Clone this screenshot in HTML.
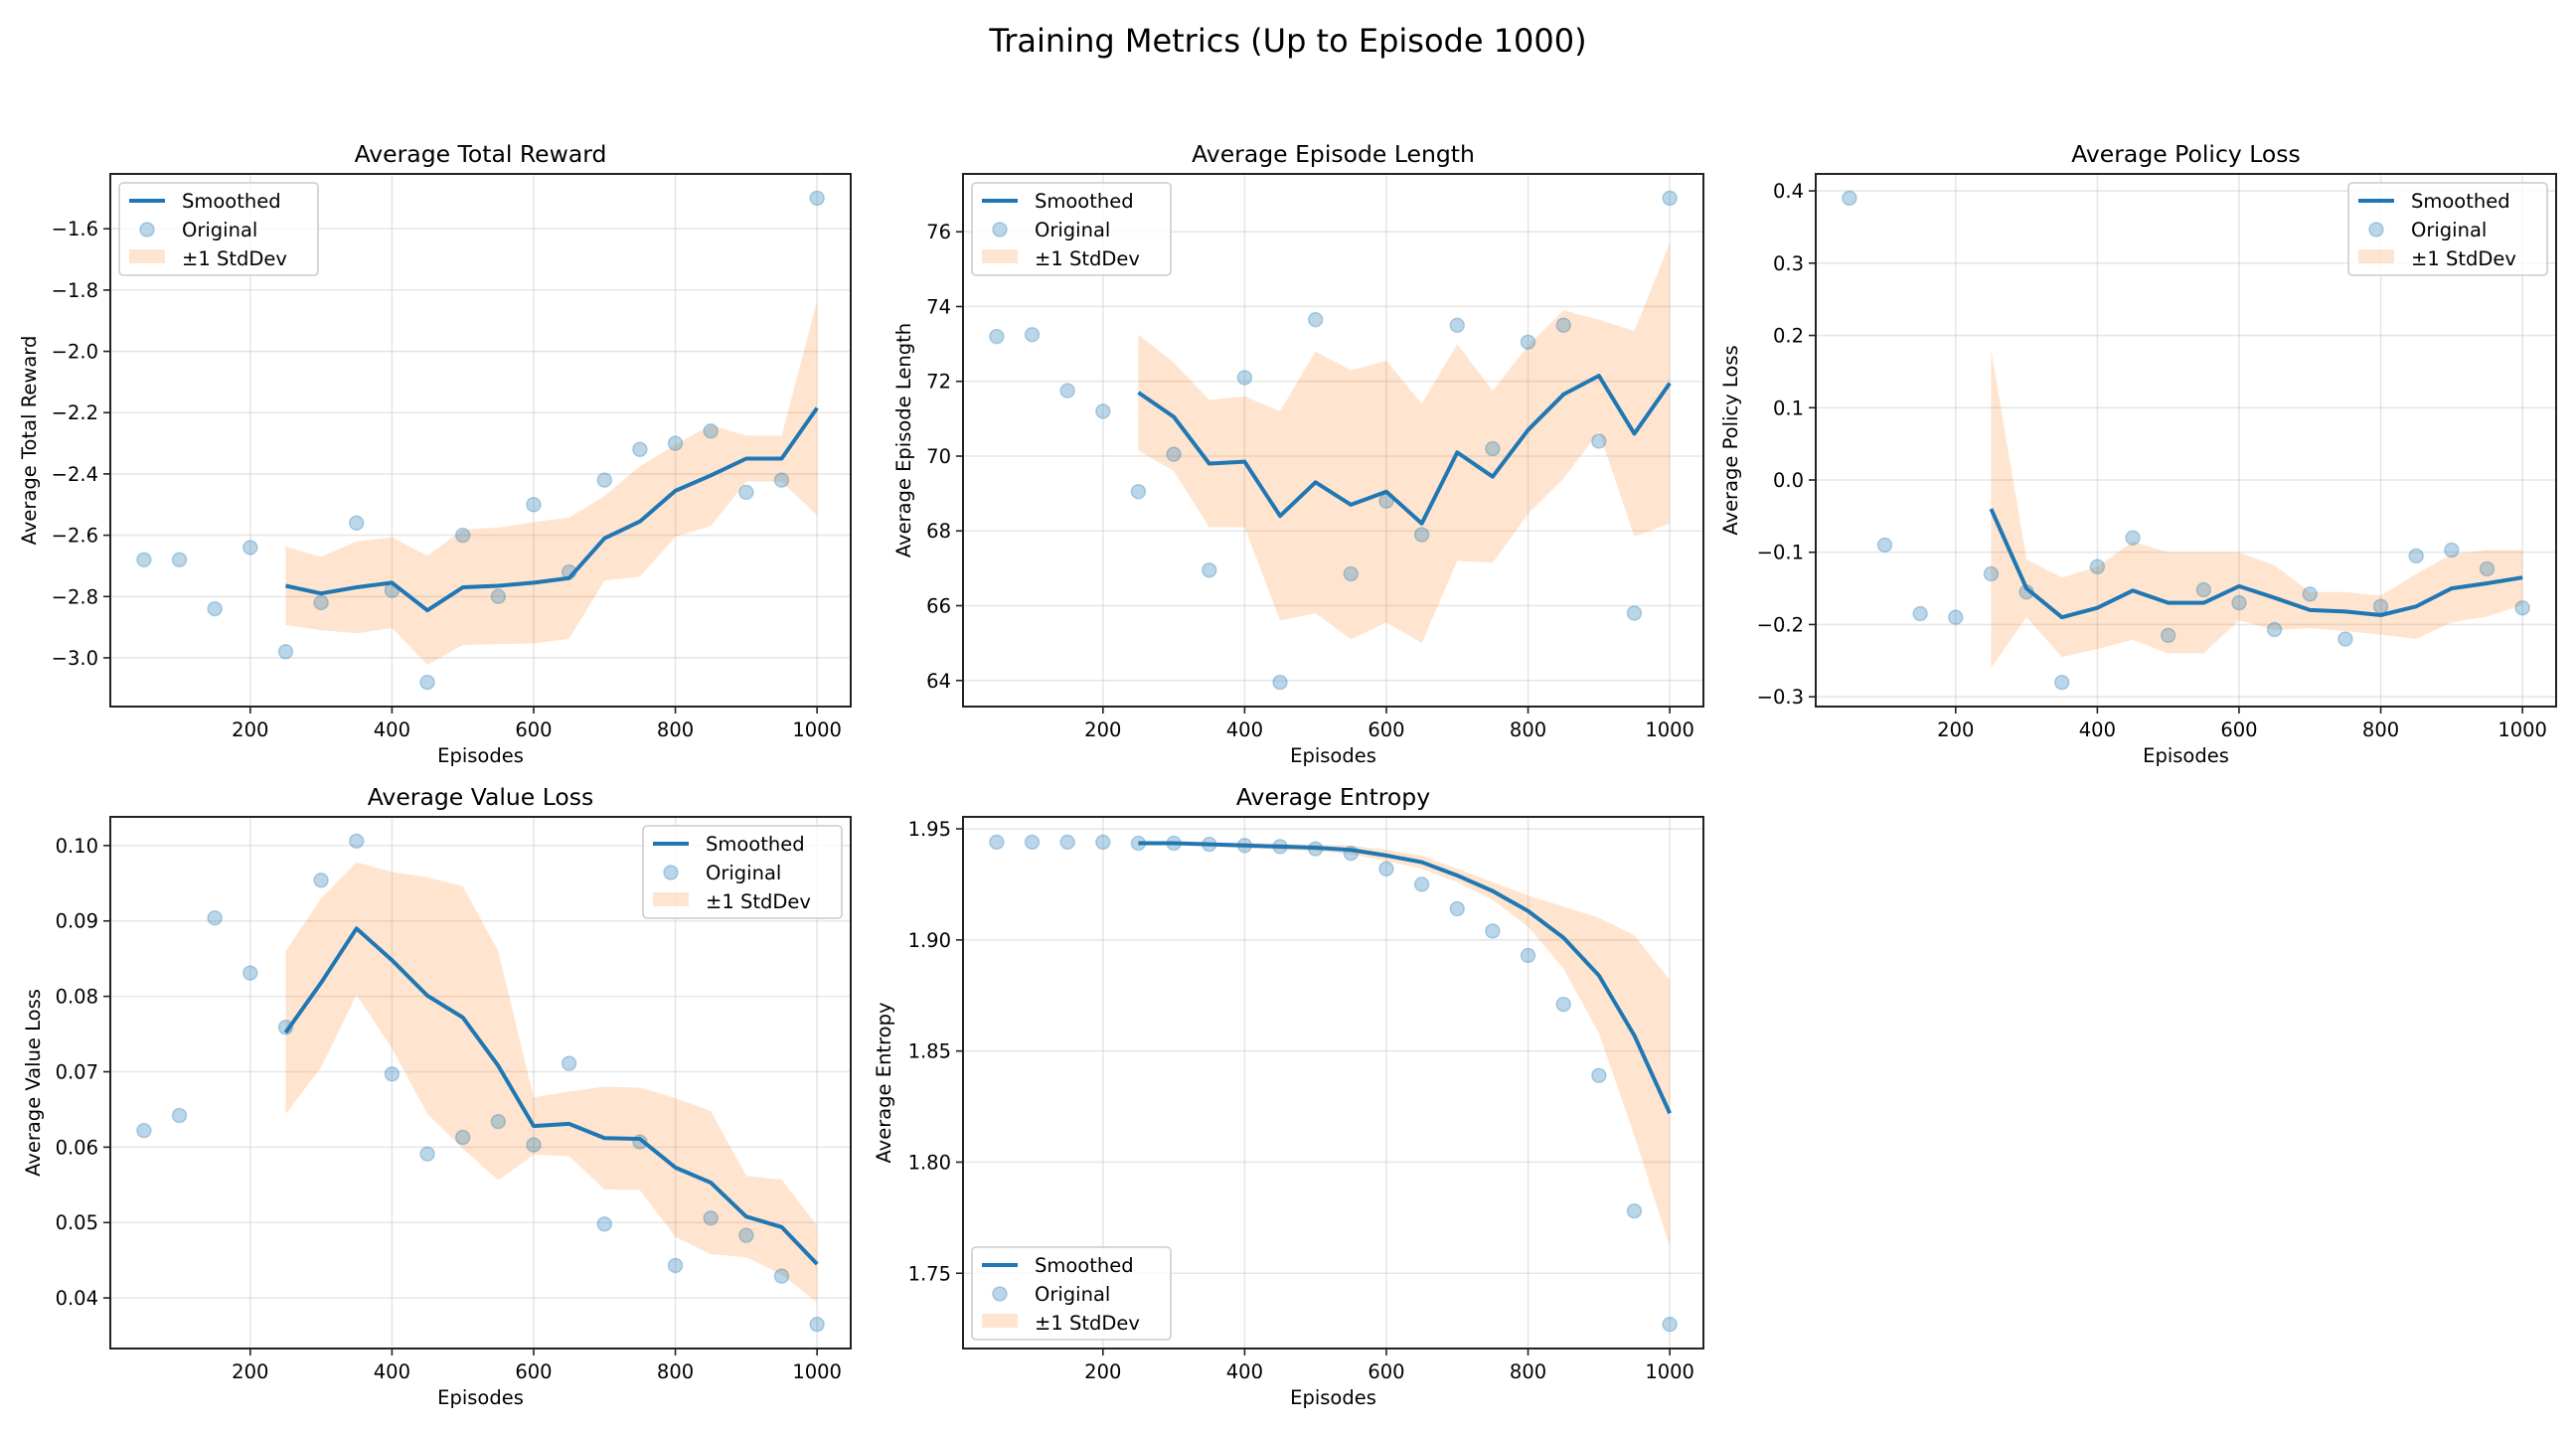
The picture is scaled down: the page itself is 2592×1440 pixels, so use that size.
<!DOCTYPE html>
<html><head><meta charset="utf-8">
<style>
html,body{margin:0;padding:0;background:#fff;}
svg{display:block;font-family:"DejaVu Sans","Liberation Sans",sans-serif;}
</style></head>
<body>
<svg id="fig" width="2592" height="1440" viewBox="0 0 2592 1440" xmlns="http://www.w3.org/2000/svg">
<rect width="2592" height="1440" fill="#fff"/>
<text x="1296" y="52" font-size="32" text-anchor="middle" fill="#000">Training Metrics (Up to Episode 1000)</text>
</svg>
<script>
const episodes=[50,100,150,200,250,300,350,400,450,500,550,600,650,700,750,800,850,900,950,1000];
const smoothEpisodes=[250,300,350,400,450,500,550,600,650,700,750,800,850,900,950,1000];
const xTicks=[200,400,600,800,1000];

const rewardOrig=[-2.68,-2.68,-2.84,-2.64,-2.98,-2.82,-2.56,-2.78,-3.08,-2.60,-2.80,-2.50,-2.72,-2.42,-2.32,-2.30,-2.26,-2.46,-2.42,-1.50];
const rewardSmooth=[-2.765,-2.79,-2.77,-2.755,-2.845,-2.77,-2.765,-2.755,-2.74,-2.61,-2.555,-2.455,-2.405,-2.35,-2.35,-2.185];
const rewardStd=[0.128,0.12,0.15,0.148,0.178,0.188,0.19,0.198,0.198,0.138,0.18,0.15,0.165,0.075,0.075,0.35];
const rewardTicks=[-3.0,-2.8,-2.6,-2.4,-2.2,-2.0,-1.8,-1.6];

const lengthOrig=[73.2,73.25,71.75,71.2,69.05,70.05,66.95,72.1,63.95,73.65,66.85,68.8,67.9,73.5,70.2,73.05,73.5,70.4,65.8,76.9];
const lengthSmooth=[71.7,71.05,69.8,69.85,68.4,69.3,68.7,69.05,68.2,70.1,69.45,70.7,71.65,72.15,70.6,71.95];
const lengthStd=[1.55,1.45,1.7,1.75,2.8,3.5,3.6,3.5,3.2,2.9,2.3,2.25,2.25,1.5,2.75,3.75];
const lengthTicks=[64,66,68,70,72,74,76];

const policyOrig=[0.39,-0.09,-0.185,-0.19,-0.13,-0.155,-0.28,-0.12,-0.08,-0.215,-0.152,-0.17,-0.207,-0.158,-0.22,-0.175,-0.105,-0.097,-0.123,-0.177];
const policySmooth=[-0.04,-0.15,-0.19,-0.177,-0.153,-0.17,-0.17,-0.147,-0.163,-0.18,-0.182,-0.187,-0.175,-0.15,-0.143,-0.135];
const policyStd=[0.22,0.04,0.055,0.057,0.068,0.07,0.07,0.047,0.045,0.025,0.027,0.027,0.045,0.047,0.046,0.038];
const policyTicks=[-0.3,-0.2,-0.1,0.0,0.1,0.2,0.3,0.4];

const valueOrig=[0.0622,0.0642,0.0904,0.0831,0.0759,0.0954,0.1006,0.0697,0.0591,0.0613,0.0634,0.0603,0.0711,0.0498,0.0607,0.0443,0.0506,0.0483,0.0429,0.0365];
const valueSmooth=[0.0752,0.0818,0.089,0.0848,0.0801,0.0772,0.0708,0.0628,0.0631,0.0612,0.0611,0.0573,0.0553,0.0508,0.0494,0.0445];
const valueStd=[0.0108,0.0112,0.0088,0.0117,0.0157,0.0174,0.0152,0.0038,0.0043,0.0068,0.0068,0.0092,0.0095,0.0054,0.0063,0.0051];
const valueTicks=[0.04,0.05,0.06,0.07,0.08,0.09,0.10];

const entropyOrig=[1.944,1.944,1.944,1.944,1.9435,1.9435,1.943,1.9425,1.942,1.941,1.939,1.932,1.925,1.914,1.904,1.893,1.871,1.839,1.778,1.727];
const entropySmooth=[1.9435,1.9435,1.943,1.9425,1.942,1.9415,1.9405,1.938,1.935,1.929,1.922,1.913,1.901,1.884,1.857,1.822];
const entropyStd=[0.001,0.001,0.001,0.0012,0.0013,0.0015,0.002,0.0025,0.003,0.003,0.004,0.007,0.014,0.026,0.045,0.06];
const entropyTicks=[1.75,1.80,1.85,1.90,1.95];

const NS="http://www.w3.org/2000/svg";
const fig=document.getElementById('fig');
function mk(tag,attrs,parent){const e=document.createElementNS(NS,tag);for(const k in attrs)e.setAttribute(k,attrs[k]);(parent||fig).appendChild(e);return e;}

const BLUE="#1f77b4";
function panel(cfg){
  const L=cfg.x0,R=cfg.x1,T=cfg.y0,B=cfg.y1;
  const g=mk('g',{});
  
  
  // x domain autoscale
  const xmin=Math.min(...episodes),xmax=Math.max(...episodes),xm=(xmax-xmin)*0.05;
  const X0=xmin-xm,X1=xmax+xm;
  const up=cfg.smooth.map((v,i)=>v+cfg.std[i]),lo=cfg.smooth.map((v,i)=>v-cfg.std[i]);
  const all=cfg.orig.concat(up,lo);
  let ymin=Math.min(...all),ymax=Math.max(...all),ym=(ymax-ymin)*0.05;
  const Y0=ymin-ym,Y1=ymax+ym;
  const sx=v=>L+(v-X0)/(X1-X0)*(R-L);
  const sy=v=>B-(v-Y0)/(Y1-Y0)*(B-T);
  // grid
  xTicks.forEach(t=>{const l=mk('line',{x1:sx(t),x2:sx(t),y1:T,y2:B,stroke:'#b0b0b0','stroke-opacity':0.3,'stroke-width':1.6},g);
    });
  cfg.ticks.forEach(t=>{const l=mk('line',{x1:L,x2:R,y1:sy(t),y2:sy(t),stroke:'#b0b0b0','stroke-opacity':0.3,'stroke-width':1.6},g);
    });
  // band
  let d='';
  smoothEpisodes.forEach((e,i)=>{d+=(i?'L':'M')+sx(e)+','+sy(up[i]);});
  for(let i=smoothEpisodes.length-1;i>=0;i--)d+='L'+sx(smoothEpisodes[i])+','+sy(lo[i]);
  const band=mk('path',{d:d+'Z',fill:'#ff7f0e','fill-opacity':0.2},g);
  
  // points
  episodes.forEach((e,i)=>{const c=mk('circle',{cx:sx(e),cy:sy(cfg.orig[i]),r:7,fill:BLUE,'fill-opacity':0.3,stroke:BLUE,'stroke-opacity':0.3,'stroke-width':1.5},g);
    });
  // line
  const pts=smoothEpisodes.map((e,i)=>sx(e)+','+sy(cfg.smooth[i])).join(' ');
  const pl=mk('polyline',{points:pts,fill:'none',stroke:BLUE,'stroke-width':4,'stroke-linejoin':'round'},g);
  
  // frame
  const fr=mk('rect',{x:L,y:T,width:R-L,height:B-T,fill:'none',stroke:'#222','stroke-width':2},g);
  
  // ticks
  xTicks.forEach(t=>{mk('line',{x1:sx(t),x2:sx(t),y1:B,y2:B+7,stroke:'#222','stroke-width':1.6},g);
    const tx=mk('text',{x:sx(t),y:B+30,'font-size':19.5,'text-anchor':'middle',fill:'#000'},g);tx.textContent=t;
    });
  cfg.ticks.forEach(t=>{mk('line',{x1:L-7,x2:L,y1:sy(t),y2:sy(t),stroke:'#222','stroke-width':1.6},g);
    const tx=mk('text',{x:L-12,y:sy(t)+7,'font-size':19.5,'text-anchor':'end',fill:'#000'},g);
    tx.textContent=cfg.fmt(t);
    });
  // labels
  const xl=mk('text',{x:(L+R)/2,y:B+56,'font-size':19.5,'text-anchor':'middle',fill:'#000'},g);xl.textContent='Episodes';
  
  const yx=cfg.ylx,yy=(T+B)/2;
  const yl=mk('text',{x:yx,y:yy,'font-size':19.5,'text-anchor':'middle',fill:'#000',transform:`rotate(-90 ${yx} ${yy})`},g);yl.textContent=cfg.title;
  
  const tt=mk('text',{x:(L+R)/2,y:T-12,'font-size':23.5,'text-anchor':'middle',fill:'#000'},g);tt.textContent=cfg.title;
  
  // legend
  const lw=200,lh=93;
  let lx,ly;
  if(cfg.legend==='ul'){lx=L+9;ly=T+9;}else if(cfg.legend==='ur'){lx=R-9-lw;ly=T+9;}else{lx=L+9;ly=B-9-lh;}
  const lg=mk('g',{},g);
  
  mk('rect',{x:lx,y:ly,width:lw,height:lh,rx:4,fill:'#fff','fill-opacity':0.8,stroke:'#ccc','stroke-width':1.6},lg);
  mk('line',{x1:lx+10,x2:lx+46,y1:ly+18,y2:ly+18,stroke:BLUE,'stroke-width':4},lg);
  mk('circle',{cx:lx+28,cy:ly+47,r:7,fill:BLUE,'fill-opacity':0.3,stroke:BLUE,'stroke-opacity':0.3,'stroke-width':1.5},lg);
  mk('rect',{x:lx+10,y:ly+67,width:36,height:14,fill:'#ff7f0e','fill-opacity':0.2},lg);
  ['Smoothed','Original','\u00b11 StdDev'].forEach((s,i)=>{const t=mk('text',{x:lx+63,y:ly+25+i*29,'font-size':19.5,fill:'#000'},lg);t.textContent=s;
    });
}
const f1=v=>v.toFixed(1).replace('-','\u2212');
panel({name:'reward',title:'Average Total Reward',orig:rewardOrig,smooth:rewardSmooth,std:rewardStd,ticks:rewardTicks,fmt:f1,x0:111,x1:856,y0:175,y1:711,ylx:36,legend:'ul'});
panel({name:'length',title:'Average Episode Length',orig:lengthOrig,smooth:lengthSmooth,std:lengthStd,ticks:lengthTicks,fmt:v=>String(v),x0:969,x1:1714,y0:175,y1:711,ylx:916,legend:'ul'});
panel({name:'policy',title:'Average Policy Loss',orig:policyOrig,smooth:policySmooth,std:policyStd,ticks:policyTicks,fmt:f1,x0:1827,x1:2572,y0:175,y1:711,ylx:1748,legend:'ur'});
panel({name:'value',title:'Average Value Loss',orig:valueOrig,smooth:valueSmooth,std:valueStd,ticks:valueTicks,fmt:v=>v.toFixed(2),x0:111,x1:856,y0:822,y1:1357,ylx:40,legend:'ur'});
panel({name:'entropy',title:'Average Entropy',orig:entropyOrig,smooth:entropySmooth,std:entropyStd,ticks:entropyTicks,fmt:v=>v.toFixed(2),x0:969,x1:1714,y0:822,y1:1357,ylx:896,legend:'ll'});
</script>
</body></html>
